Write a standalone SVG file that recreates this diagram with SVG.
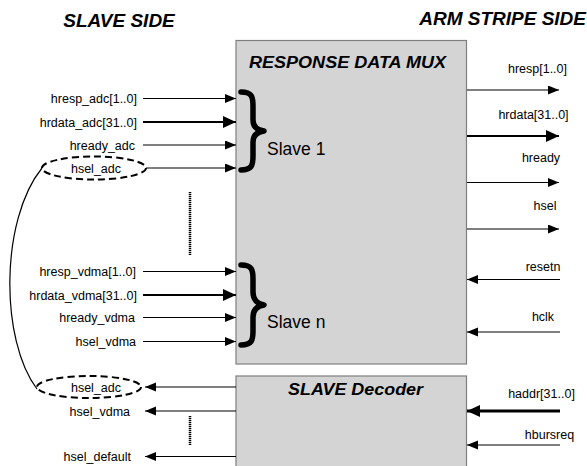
<svg xmlns="http://www.w3.org/2000/svg" width="587" height="466" viewBox="0 0 587 466">
<style>
text{font-family:"Liberation Sans",Arial,sans-serif;fill:#000}
.title{font-size:19px;font-weight:bold;font-style:italic}
.hdr{font-size:16px;font-weight:bold;font-style:italic}
.lbl{font-size:12.5px}
.big{font-size:17.5px}
.box{fill:#d4d4d4;stroke:#7f7f7f;stroke-width:1.2}
.w{stroke:#000;stroke-width:1.2;fill:none}
.t{stroke:#000;stroke-width:2.2;fill:none}
.tt{stroke:#000;stroke-width:3;fill:none}
.ar{marker-end:url(#ah)}
.art{marker-end:url(#aht)}
.brace{stroke:#000;stroke-width:5.5;fill:none;stroke-linejoin:round;stroke-linecap:round}
.dots{stroke:#000;stroke-width:2.5;stroke-dasharray:1.2 0.8;fill:none}
.ell{fill:none;stroke:#000;stroke-width:2;stroke-dasharray:7 4}
</style>
<defs>
<marker id="ah" markerUnits="userSpaceOnUse" markerWidth="12" markerHeight="10" refX="11" refY="4.5" orient="auto"><path d="M0,0 L11,4.5 L0,9 z" fill="#000"/></marker>
<marker id="aht" markerUnits="userSpaceOnUse" markerWidth="14" markerHeight="13" refX="13" refY="6" orient="auto"><path d="M0,0 L13,6 L0,12 z" fill="#000"/></marker>
</defs>

<text class="title" x="119" y="26.5" text-anchor="middle">SLAVE SIDE</text>
<text class="title" x="586" y="25" text-anchor="end">ARM STRIPE SIDE</text>

<g id="mux">
<rect class="box" x="236" y="40.5" width="230.5" height="323.5"/>
<text class="hdr" x="249" y="68" textLength="197" lengthAdjust="spacingAndGlyphs">RESPONSE DATA MUX</text>
<path class="brace" d="M241,92 C252,92 253,97 253,106 L253,120 C253,127 257,130 264,131 C257,132 253,135 253,142 L253,156 C253,165 252,170 241,170"/>
<text class="big" x="267" y="155">Slave 1</text>
<path class="brace" d="M241,265 C252,265 253,270 253,279 L253,292 C253,299 257,304 264,305 C257,306 253,310 253,317 L253,331 C253,340 252,345 241,345"/>
<text class="big" x="267" y="328">Slave n</text>
</g>

<g id="decoder">
<rect class="box" x="236" y="376" width="230.5" height="100"/>
<text class="hdr" x="288" y="395" textLength="135" lengthAdjust="spacingAndGlyphs">SLAVE Decoder</text>
</g>

<g id="ellipse-top">
<ellipse class="ell" cx="94" cy="168" rx="52" ry="11.5"/>
<text class="lbl" x="96" y="172.5" text-anchor="middle">hsel_adc</text>
</g>
<g id="ellipse-bottom">
<ellipse class="ell" cx="89" cy="387" rx="52" ry="11"/>
<text class="lbl" x="96" y="391.5" text-anchor="middle">hsel_adc</text>
</g>

<g id="labels">
<text class="lbl" x="137" y="102.5" text-anchor="end">hresp_adc[1..0]</text>
<text class="lbl" x="137" y="126.5" text-anchor="end">hrdata_adc[31..0]</text>
<text class="lbl" x="135" y="149.5" text-anchor="end">hready_adc</text>
<text class="lbl" x="136" y="276" text-anchor="end">hresp_vdma[1..0]</text>
<text class="lbl" x="137" y="299.5" text-anchor="end">hrdata_vdma[31..0]</text>
<text class="lbl" x="135" y="322" text-anchor="end">hready_vdma</text>
<text class="lbl" x="136" y="346" text-anchor="end">hsel_vdma</text>
<text class="lbl" x="130" y="415.5" text-anchor="end">hsel_vdma</text>
<text class="lbl" x="131" y="461" text-anchor="end">hsel_default</text>
<text class="lbl" x="537.5" y="73" text-anchor="middle">hresp[1..0]</text>
<text class="lbl" x="533.5" y="118.5" text-anchor="middle">hrdata[31..0]</text>
<text class="lbl" x="541" y="162" text-anchor="middle">hready</text>
<text class="lbl" x="545" y="210" text-anchor="middle">hsel</text>
<text class="lbl" x="543" y="271" text-anchor="middle">resetn</text>
<text class="lbl" x="543" y="321" text-anchor="middle">hclk</text>
<text class="lbl" x="541.5" y="398" text-anchor="middle">haddr[31..0]</text>
<text class="lbl" x="549.5" y="438.5" text-anchor="middle">hbursreq</text>
</g>

<g id="connectors">
<line class="w ar" x1="143" y1="98.5" x2="236" y2="98.5"/>
<line class="t art" x1="143" y1="122" x2="236" y2="122"/>
<line class="w ar" x1="143" y1="145" x2="236" y2="145"/>
<line class="w ar" x1="146" y1="168" x2="236" y2="168"/>
<line class="w ar" x1="143" y1="271.5" x2="236" y2="271.5"/>
<line class="t art" x1="143" y1="295" x2="236" y2="295"/>
<line class="w ar" x1="143" y1="317.5" x2="236" y2="317.5"/>
<line class="w ar" x1="143" y1="341.5" x2="236" y2="341.5"/>
<line class="w ar" x1="236" y1="387" x2="145" y2="387"/>
<line class="w ar" x1="236" y1="411" x2="145" y2="411"/>
<line class="w ar" x1="236" y1="456.5" x2="145" y2="456.5"/>
<line class="w ar" x1="467" y1="90" x2="559" y2="90"/>
<line class="t art" x1="467" y1="136" x2="559" y2="136"/>
<line class="w ar" x1="467" y1="182.5" x2="559" y2="182.5"/>
<line class="w ar" x1="467" y1="229" x2="559" y2="229"/>
<line class="w ar" x1="560" y1="279.5" x2="467" y2="279.5"/>
<line class="w ar" x1="560" y1="332" x2="467" y2="332"/>
<line class="tt art" x1="560" y1="411" x2="467" y2="411"/>
<line class="w ar" x1="560" y1="445" x2="467" y2="445"/>
<path class="w" d="M42,168 C0,220 0,340 37,389"/>
<line class="dots" x1="190" y1="192" x2="190" y2="255"/>
<line class="dots" x1="190" y1="416" x2="190" y2="445"/>
</g>
</svg>
